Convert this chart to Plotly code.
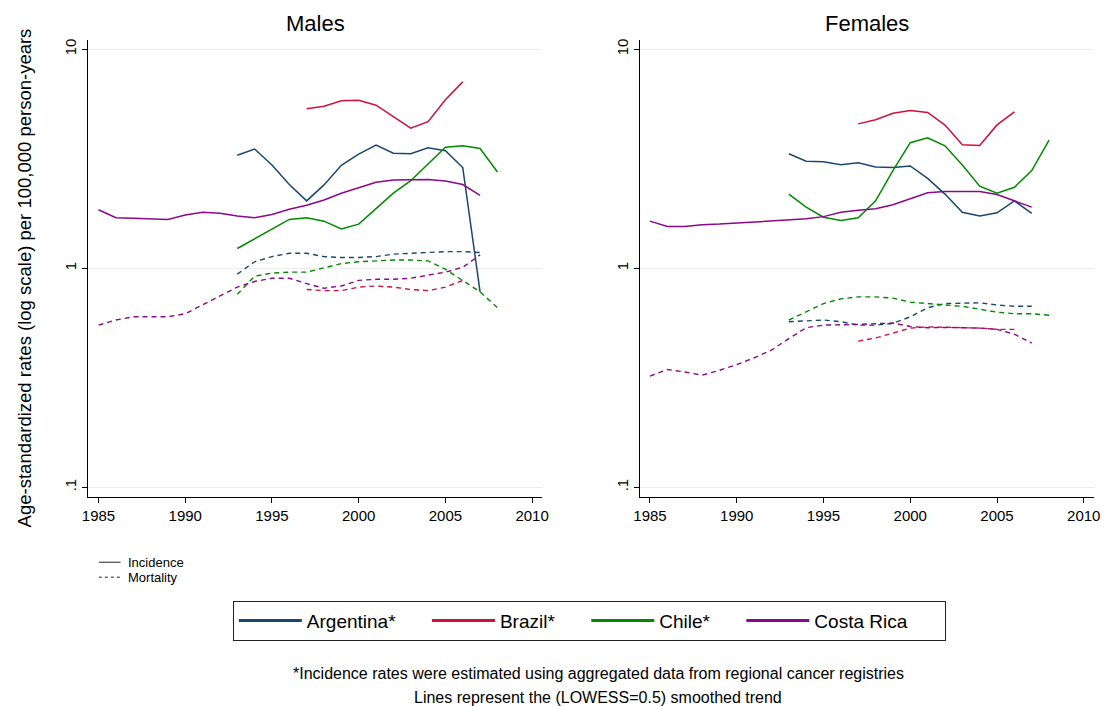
import plotly.graph_objects as go

# ---------------- data ----------------
years_85_07 = list(range(1985, 2008))
years_93_07 = list(range(1993, 2008))
years_93_08 = list(range(1993, 2009))
years_97_06 = list(range(1997, 2007))

countries = ["Argentina*", "Brazil*", "Chile*", "Costa Rica"]
colors = ["#1a476f", "#d2103c", "#008a00", "#8b088b"]

# Males incidence
m_inc_arg = [3.28, 3.50, 2.96, 2.41, 2.03, 2.40, 2.95, 3.32, 3.65, 3.35, 3.33, 3.55, 3.44, 2.88, 0.78]
m_inc_bra = [5.34, 5.49, 5.81, 5.85, 5.55, 4.91, 4.36, 4.67, 5.87, 7.09]
m_inc_chl = [1.23, 1.36, 1.50, 1.67, 1.70, 1.64, 1.51, 1.59, 1.87, 2.20, 2.51, 2.99, 3.57, 3.62, 3.52, 2.75]
m_inc_cri = [1.85, 1.70, 1.69, 1.68, 1.67, 1.75, 1.80, 1.78, 1.73, 1.70, 1.76, 1.86, 1.94, 2.05,
             2.20, 2.33, 2.47, 2.53, 2.54, 2.54, 2.50, 2.41, 2.15]
# Males mortality
m_mort_arg = [0.94, 1.07, 1.13, 1.17, 1.17, 1.13, 1.12, 1.12, 1.13, 1.16, 1.17, 1.18, 1.19, 1.19, 1.18]
m_mort_bra = [0.80, 0.79, 0.79, 0.82, 0.83, 0.82, 0.80, 0.79, 0.82, 0.88]
m_mort_chl = [0.76, 0.92, 0.95, 0.96, 0.96, 1.00, 1.05, 1.07, 1.08, 1.09, 1.09, 1.08, 0.99, 0.88, 0.78, 0.66]
m_mort_cri = [0.55, 0.58, 0.60, 0.60, 0.60, 0.62, 0.68, 0.75, 0.82, 0.87, 0.90, 0.90, 0.85, 0.81,
              0.83, 0.88, 0.89, 0.89, 0.90, 0.93, 0.96, 1.01, 1.15]
# Females incidence
f_inc_arg = [3.33, 3.08, 3.06, 2.97, 3.03, 2.90, 2.88, 2.93, 2.57, 2.18, 1.80, 1.73, 1.79, 2.03, 1.78]
f_inc_bra = [4.56, 4.76, 5.10, 5.25, 5.14, 4.50, 3.66, 3.63, 4.51, 5.17]
f_inc_chl = [2.18, 1.90, 1.71, 1.65, 1.70, 2.03, 2.79, 3.74, 3.94, 3.62, 2.96, 2.37, 2.20, 2.34, 2.79, 3.84]
f_inc_cri = [1.64, 1.55, 1.55, 1.58, 1.59, 1.61, 1.62, 1.65, 1.67, 1.68, 1.72, 1.80, 1.84, 1.87,
             1.95, 2.08, 2.21, 2.24, 2.24, 2.24, 2.17, 2.03, 1.90]
# Females mortality
f_mort_arg = [0.57, 0.575, 0.58, 0.57, 0.55, 0.55, 0.56, 0.60, 0.66, 0.69, 0.695, 0.695, 0.68, 0.67, 0.67]
f_mort_bra = [0.465, 0.48, 0.506, 0.533, 0.54, 0.537, 0.537, 0.533, 0.526, 0.526]
f_mort_chl = [0.58, 0.635, 0.69, 0.725, 0.74, 0.74, 0.73, 0.70, 0.69, 0.68, 0.67, 0.65, 0.63, 0.62, 0.62, 0.61]
f_mort_cri = [0.322, 0.345, 0.336, 0.325, 0.342, 0.363, 0.39, 0.423, 0.477, 0.535, 0.55, 0.55, 0.554,
              0.558, 0.562, 0.542, 0.535, 0.537, 0.537, 0.533, 0.526, 0.50, 0.455]

y_tick_vals = [0.1, 1, 10]
y_tick_text = [".1", "1", "10"]
x_tick_vals = [1985, 1990, 1995, 2000, 2005, 2010]
panel_titles = ["Males", "Females"]
linetype_labels = ["Incidence", "Mortality"]

# ---------------- figure ----------------
W, H = 1112, 706
FONT = "Liberation Sans, Arial, sans-serif"
fig = go.Figure()

year_sets = [years_93_07, years_97_06, years_93_08, years_85_07]
panels = [
    ("x", "y", [m_inc_arg, m_inc_bra, m_inc_chl, m_inc_cri], [m_mort_arg, m_mort_bra, m_mort_chl, m_mort_cri]),
    ("x2", "y2", [f_inc_arg, f_inc_bra, f_inc_chl, f_inc_cri], [f_mort_arg, f_mort_bra, f_mort_chl, f_mort_cri]),
]
for xa, ya, inc, mort in panels:
    for i in range(4):
        fig.add_trace(go.Scatter(x=year_sets[i], y=mort[i], mode="lines", xaxis=xa, yaxis=ya,
                                 line=dict(color=colors[i], width=1.4, dash="5px,4px"),
                                 showlegend=False, hoverinfo="skip"))
    for i in range(4):
        fig.add_trace(go.Scatter(x=year_sets[i], y=inc[i], mode="lines", xaxis=xa, yaxis=ya,
                                 line=dict(color=colors[i], width=1.5),
                                 showlegend=False, hoverinfo="skip"))

# country legend entries (trailing no-break spaces widen the gaps like the original)
pads = ["\u00a0" * 5, "\u00a0" * 5, "\u00a0" * 5, "\u00a0" * 6]
for name, c, p in zip(countries, colors, pads):
    fig.add_trace(go.Scatter(x=[None], y=[None], mode="lines", name=name + p,
                             line=dict(color=c, width=3)))

xr = [1984.42, 2010.58]
yr = [-1.0456, 1.042]
ydom = [1 - 497 / H, 1 - 39 / H]
xdoms = [[82.5 / W, 542 / W], [641 / W, 1100.7 / W]]

common_x = dict(range=xr, tickvals=x_tick_vals, showgrid=False, zeroline=False,
                showline=True, linecolor="black", linewidth=1, ticks="outside",
                ticklen=5, tickcolor="black", tickfont=dict(family=FONT, size=15, color="black"))
common_y = dict(type="log", range=yr, tickvals=y_tick_vals, ticktext=y_tick_text,
                showgrid=True, gridcolor="#ececec", gridwidth=1, zeroline=False,
                showline=True, linecolor="black", linewidth=1, ticks="outside",
                ticklen=5, tickcolor="black", tickangle=-90,
                tickfont=dict(family=FONT, size=15, color="black"))

fig.update_layout(
    width=W, height=H,
    margin=dict(l=0, r=0, t=0, b=0),
    paper_bgcolor="white", plot_bgcolor="white",
    font=dict(family=FONT, color="black"),
    xaxis=dict(domain=xdoms[0], anchor="y", **common_x),
    yaxis=dict(domain=ydom, anchor="x", **common_y),
    xaxis2=dict(domain=xdoms[1], anchor="y2", **common_x),
    yaxis2=dict(domain=ydom, anchor="x2", **common_y),
    legend=dict(orientation="h", x=228.7 / W, y=1 - 600.5 / H, xanchor="left", yanchor="top",
                bordercolor="#222222", borderwidth=1, bgcolor="white",
                font=dict(family=FONT, size=19, color="black"), itemwidth=63,
                traceorder="normal"),
    showlegend=True,
)

# small line-type key (Incidence / Mortality)
key_y = [562, 577]
key_dash = ["solid", "3px,3px"]
shapes = []
annotations = []
for lab, ky, dsh in zip(linetype_labels, key_y, key_dash):
    shapes.append(dict(type="line", xref="paper", yref="paper", x0=93 / W, x1=115 / W,
                       y0=1 - ky / H, y1=1 - ky / H, line=dict(color="#222222", width=1, dash=dsh)))
    annotations.append(dict(text=lab, x=121 / W, y=1 - ky / H, xref="paper", yref="paper",
                            showarrow=False, xanchor="left", yanchor="middle",
                            font=dict(family=FONT, size=13, color="black")))

annotations += [
    dict(text=panel_titles[0], x=(xdoms[0][0] + xdoms[0][1]) / 2, y=1 - 23 / H, xref="paper", yref="paper",
         showarrow=False, font=dict(family=FONT, size=22, color="black"), xanchor="center", yanchor="middle"),
    dict(text=panel_titles[1], x=(xdoms[1][0] + xdoms[1][1]) / 2, y=1 - 23 / H, xref="paper", yref="paper",
         showarrow=False, font=dict(family=FONT, size=22, color="black"), xanchor="center", yanchor="middle"),
    dict(text="Age-standardized rates (log scale) per 100,000 person-years", textangle=-90,
         x=18 / W, y=1 - 277 / H, xref="paper", yref="paper", showarrow=False,
         font=dict(family=FONT, size=18.5, color="black"), xanchor="center", yanchor="middle"),
    dict(text="*Incidence rates were estimated using aggregated data from regional cancer registries",
         x=599 / W, y=1 - 673 / H, xref="paper", yref="paper", showarrow=False,
         font=dict(family=FONT, size=16, color="black"), xanchor="center", yanchor="middle"),
    dict(text="Lines represent the (LOWESS=0.5) smoothed trend",
         x=599 / W, y=1 - 697 / H, xref="paper", yref="paper", showarrow=False,
         font=dict(family=FONT, size=16, color="black"), xanchor="center", yanchor="middle"),
]
fig.update_layout(annotations=annotations, shapes=shapes)

fig.write_html("out.html", config={"displayModeBar": False},
               post_script="document.body.style.margin='0px';")
